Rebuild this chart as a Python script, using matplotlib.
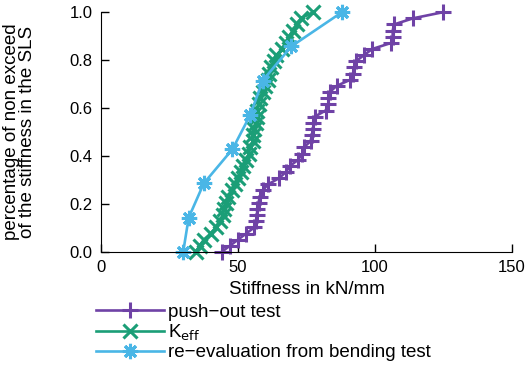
import numpy as np
import matplotlib
matplotlib.use('Agg')
import matplotlib.pyplot as plt

# push-out test: stiffness values (kN/mm), sorted
push_out = [44, 47, 50, 53, 56, 56.5, 57, 57, 57.5, 58,
            59, 61, 65, 67.5, 69, 72, 73.5, 74, 76.5, 77,
            77.5, 77.5, 78, 82, 83, 83, 83.5, 86, 91, 92,
            92.5, 93, 96, 99, 106, 106.5, 106.5, 107, 114, 125]

# K_eff values
k_eff = [34.5, 36, 37.5, 40, 42, 43.5, 44.5, 45, 45.5, 46.5,
         48, 49, 50, 51, 52, 53, 54, 54.5, 55.5, 55.5,
         56, 56.5, 57, 57, 57.5, 58, 59, 60, 61, 61.5,
         62, 63, 64, 66, 67.5, 68.5, 70, 71.5, 73, 77.5]

# re-evaluation from bending test
bending = [30, 32, 37.5, 48, 54.5, 59, 69.5, 88]

labels = ['push\u2212out test', r'K$_{\mathrm{eff}}$', 're\u2212evaluation from bending test']
colors = ['#6f42a6', '#1b9e77', '#4ab6e6']

plt.rcParams['font.family'] = ['Liberation Sans', 'DejaVu Sans']
plt.rcParams['font.size'] = 12

fig = plt.figure(figsize=(5.25, 3.67), dpi=100)
ax = fig.add_axes([0.1924, 0.3134, 0.7826, 0.6536])

series = [push_out, k_eff, bending]
markers = ['+', 'x', (8, 2, 0)]
sizes = [11, 10, 11]
handles = []
for vals, lab, col, mk, ms in zip(series, labels, colors, markers, sizes):
    y = np.linspace(0, 1, len(vals))
    h, = ax.plot(vals, y, color=col, lw=1.9, marker=mk, ms=ms, mew=2.2,
                 label=lab, clip_on=False)
    handles.append(h)

ax.set_xlim(0, 150)
ax.set_ylim(0, 1.0)
ax.set_xticks([0, 50, 100, 150])
ax.set_yticks([0, 0.2, 0.4, 0.6, 0.8, 1.0])
ax.set_yticklabels(['0.0', '0.2', '0.4', '0.6', '0.8', '1.0'])
ax.spines['top'].set_visible(False)
ax.spines['right'].set_visible(False)
ax.tick_params(direction='in', length=6, width=1, top=False, right=False,
               pad=6, labelsize=12)

ax.set_xlabel('Stiffness in kN/mm', labelpad=4, fontsize=13.5)
ax.set_ylabel('percentage of non exceed\nof the stiffness in the SLS',
              linespacing=0.95, fontsize=13.5)
ax.yaxis.set_label_coords(-0.158, 0.5)

fig.legend(handles=handles, loc='upper left', bbox_to_anchor=(0.183, 0.172),
           frameon=False, handlelength=3.6, handletextpad=0.25, fontsize=13.5,
           labelspacing=0.08, borderaxespad=0, borderpad=0)

fig.savefig('out.png', dpi=100)
